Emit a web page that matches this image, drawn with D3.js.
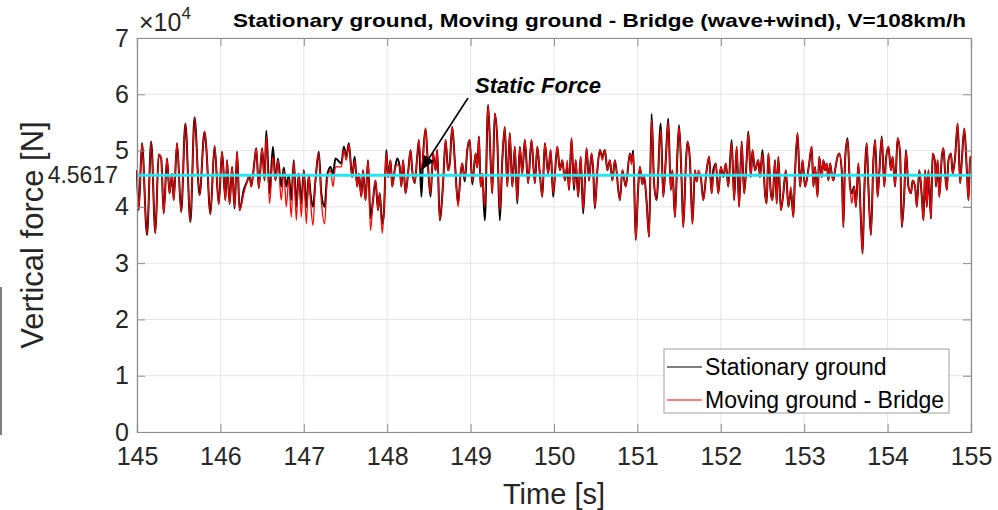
<!DOCTYPE html>
<html><head><meta charset="utf-8">
<script src="https://cdn.jsdelivr.net/npm/d3@7"></script>
<style>
html,body{margin:0;padding:0;background:#fff;}
text{font-family:"Liberation Sans",Arial,Helvetica,sans-serif;}
</style></head>
<body><svg id="chart" width="998" height="510"></svg>
<script>
// ---- data (force in units of 10^4 N) ----
const time = [
145.00,145.02,145.06,145.12,145.17,145.22,145.26,145.29,145.32,145.36,145.39,145.42,145.44,145.48,145.53,145.58,145.64,145.69,145.75,145.81,145.83,145.88,145.93,145.98,
146.02,146.06,146.08,146.11,146.14,146.17,146.20,146.23,146.28,146.32,146.35,146.37,146.41,146.43,146.46,146.50,146.53,146.55,146.59,146.63,146.66,146.69,146.73,146.76,146.79,146.82,146.85,146.88,146.91,146.94,146.97,
147.00,147.03,147.06,147.08,147.11,147.14,147.18,147.21,147.25,147.28,147.32,147.35,147.38,147.45,147.48,147.51,147.54,147.58,147.61,147.64,147.66,147.69,147.71,147.74,147.77,147.80,147.83,147.86,147.89,147.91,147.94,147.96,147.99,
148.01,148.04,148.06,148.09,148.12,148.15,148.17,148.19,148.22,148.25,148.28,148.30,148.33,148.36,148.38,148.41,148.43,148.46,148.49,148.52,148.55,148.58,148.60,148.63,148.67,148.70,148.73,148.75,148.78,148.81,148.85,148.88,148.90,148.93,148.96,148.99,
149.02,149.06,149.08,149.10,149.12,149.14,149.17,149.21,149.24,149.26,149.29,149.32,149.35,149.38,149.41,149.44,149.47,149.50,149.53,149.56,149.59,149.62,149.65,149.69,149.73,149.77,149.80,149.83,149.86,149.89,149.93,149.96,149.99,
150.02,150.04,150.07,150.10,150.13,150.16,150.18,150.21,150.24,150.26,150.29,150.32,150.35,150.39,150.42,150.45,150.47,150.49,150.52,150.55,150.58,150.61,150.64,150.67,150.70,150.73,150.79,150.82,150.86,150.91,150.93,150.95,150.98,
151.01,151.03,151.06,151.08,151.11,151.14,151.17,151.20,151.23,151.28,151.31,151.34,151.37,151.40,151.42,151.45,151.48,151.50,151.53,151.55,151.58,151.60,151.63,151.66,151.69,151.71,151.73,151.76,151.79,151.83,151.86,151.89,151.91,151.94,151.97,
152.00,152.03,152.06,152.09,152.13,152.16,152.19,152.22,152.25,152.28,152.31,152.33,152.36,152.38,152.41,152.45,152.47,152.50,152.53,152.55,152.57,152.60,152.62,152.65,152.67,152.69,152.72,152.75,152.78,152.81,152.84,152.87,152.89,152.92,152.95,152.98,
153.01,153.03,153.06,153.09,153.11,153.13,153.16,153.18,153.21,153.23,153.25,153.27,153.29,153.31,153.33,153.35,153.37,153.40,153.42,153.45,153.47,153.49,153.52,153.55,153.57,153.60,153.62,153.65,153.68,153.70,153.72,153.75,153.77,153.80,153.83,153.85,153.88,153.90,153.93,153.96,153.98,
154.01,154.04,154.06,154.09,154.12,154.15,154.17,154.20,154.22,154.25,154.28,154.30,154.33,154.35,154.38,154.41,154.43,154.45,154.47,154.49,154.52,154.54,154.57,154.58,154.60,154.62,154.65,154.67,154.69,154.71,154.73,154.76,154.78,154.81,154.84,154.87,154.89,154.92,154.95,154.97,154.99,155.00
];
const stationaryGround = [
4.65,3.94,5.13,3.50,5.16,3.53,4.93,4.86,3.88,4.86,4.24,4.59,4.12,5.13,3.91,5.48,3.73,5.59,4.21,5.34,5.07,3.87,5.08,4.05,
4.98,4.12,4.83,4.05,4.71,3.97,4.98,3.94,4.30,4.45,4.56,4.36,4.83,5.04,4.33,5.04,4.47,5.35,4.24,5.07,4.47,4.86,4.36,4.70,4.36,4.56,4.12,4.83,4.00,4.59,4.06,
4.65,4.00,4.56,4.24,4.00,4.47,4.98,4.24,4.00,4.56,4.71,4.59,4.86,4.77,5.07,4.89,5.13,4.53,4.89,4.36,4.59,4.18,4.65,4.12,4.83,3.80,4.12,4.47,3.94,4.24,3.70,3.88,5.01,
4.53,4.83,4.36,4.65,4.86,4.71,4.36,4.83,4.24,4.59,5.01,4.65,4.42,4.89,5.19,4.18,4.89,5.39,4.71,4.18,4.95,4.65,5.01,3.76,4.42,5.19,4.65,4.77,5.42,4.83,4.06,4.59,4.77,4.45,5.01,5.19,
4.40,4.95,4.70,5.25,4.36,4.59,3.76,5.81,4.83,4.24,5.66,5.19,3.76,4.83,5.42,4.36,5.31,4.36,5.07,4.06,5.07,4.59,5.19,4.42,5.19,4.42,5.07,4.59,4.18,5.13,4.59,5.01,4.18,
4.77,5.07,4.65,4.83,4.47,4.71,4.30,5.22,4.30,4.83,4.18,4.89,3.88,5.04,4.47,4.95,4.65,3.97,4.65,5.01,4.89,5.01,4.65,4.83,4.47,4.83,4.12,4.65,4.36,4.95,4.80,5.00,3.41,
4.36,4.71,4.40,4.55,4.10,3.47,5.65,4.42,4.12,5.48,4.18,4.83,5.57,4.30,4.65,3.82,4.95,5.45,4.47,3.64,4.71,5.16,4.83,3.70,4.65,4.45,4.59,4.53,4.12,4.65,4.89,4.24,4.65,4.77,4.24,
4.71,4.53,4.77,4.36,5.19,4.12,5.07,4.00,5.16,4.24,4.83,5.34,4.53,5.01,4.65,4.83,4.53,5.01,4.24,4.06,4.95,4.24,4.12,4.83,4.06,4.89,3.94,4.24,4.65,4.00,4.30,3.82,4.59,5.31,4.36,4.83,
4.36,4.47,4.77,5.07,4.36,4.71,4.18,4.89,4.53,4.83,4.65,4.77,4.47,4.77,4.59,4.47,4.65,4.89,4.95,4.65,3.64,4.83,5.22,4.36,4.24,4.36,4.00,4.77,3.76,3.17,4.24,5.13,4.36,3.50,4.83,5.19,4.18,4.59,5.25,4.36,4.83,
5.07,4.65,4.89,4.36,5.22,4.95,3.64,4.24,5.01,4.36,4.24,4.47,4.36,4.00,4.65,4.18,3.76,4.65,4.00,4.65,3.79,4.95,4.77,4.36,4.83,4.18,4.89,5.04,4.59,4.30,4.83,4.95,4.59,4.89,5.48,4.42,4.83,5.39,4.65,4.12,4.89,4.83
];
const movingGroundBridge = [
4.65,3.94,5.13,3.50,5.16,3.53,4.93,4.86,3.88,4.86,4.24,4.59,4.12,5.13,3.91,5.48,3.73,5.59,4.21,5.34,5.07,3.87,5.08,4.05,
4.98,4.12,4.83,4.05,4.71,4.00,4.98,3.94,4.24,4.45,4.56,4.36,4.83,5.04,4.33,5.04,4.47,5.25,4.06,4.89,4.47,4.83,4.12,4.65,4.00,4.50,3.82,4.80,3.76,4.59,3.82,
4.65,3.70,4.56,4.12,3.67,4.47,4.95,4.12,3.70,4.47,4.65,4.36,4.71,4.71,5.01,4.83,5.10,4.53,4.83,4.36,4.59,4.18,4.65,4.12,4.83,3.58,4.12,4.47,3.94,4.24,3.53,3.88,4.95,
4.53,4.83,4.36,4.65,4.75,4.71,4.36,4.83,4.24,4.59,5.01,4.65,4.42,4.89,5.19,4.65,4.89,5.39,4.71,4.24,4.95,4.65,5.01,3.76,4.42,5.19,4.65,4.77,5.42,4.83,4.00,4.59,4.77,4.50,5.01,5.19,
4.45,4.95,4.70,5.25,4.36,4.59,4.00,5.81,4.83,4.24,5.66,5.19,3.94,4.83,5.42,4.36,5.31,4.36,5.07,4.12,5.07,4.59,5.19,4.42,5.19,4.42,5.07,4.59,4.18,5.13,4.59,5.01,4.24,
4.77,5.07,4.65,4.83,4.47,4.83,4.30,5.22,4.36,4.83,4.18,4.89,3.94,5.04,4.47,4.95,4.65,4.00,4.65,5.01,4.83,5.01,4.65,4.83,4.47,4.83,4.12,4.65,4.36,4.95,4.75,4.95,3.41,
4.36,4.71,4.40,4.55,4.10,3.47,5.55,4.42,4.12,5.38,4.18,4.83,5.51,4.30,4.65,3.82,4.95,5.42,4.47,3.64,4.71,5.16,4.83,3.70,4.65,4.45,4.65,4.53,4.12,4.65,4.89,4.24,4.53,4.77,4.24,
4.71,4.53,4.77,4.36,5.13,4.12,5.07,4.00,5.13,4.24,4.83,5.31,4.53,5.01,4.65,4.83,4.53,4.95,4.24,4.06,4.95,4.24,4.12,4.83,4.06,4.89,3.94,4.24,4.65,4.00,4.36,3.82,4.59,5.31,4.36,4.83,
4.36,4.47,4.77,5.07,4.36,4.71,4.18,4.89,4.53,4.83,4.65,4.77,4.47,4.77,4.59,4.47,4.65,4.89,4.95,4.65,3.64,4.83,5.19,4.36,4.06,4.36,4.00,4.77,3.76,3.17,4.24,5.13,4.36,3.50,4.83,5.19,4.18,4.59,5.22,4.36,4.83,
5.07,4.65,4.89,4.36,5.22,4.95,3.64,4.24,4.98,4.36,4.24,4.47,4.36,4.00,4.65,4.18,3.76,4.65,4.00,4.65,3.79,4.95,4.77,4.36,4.83,4.18,4.89,5.04,4.59,4.30,4.83,4.95,4.59,4.89,5.48,4.42,4.83,5.39,4.65,4.12,4.89,4.83
];
const staticForce = 4.5617;
const xTicks = [145,146,147,148,149,150,151,152,153,154,155];
const yTicks = [0,1,2,3,4,5,6,7];
const seriesNames = ["Stationary ground","Moving ground - Bridge"];
const seriesColors = ["#000000","#ff0000"];
const titleText = "Stationary ground, Moving ground - Bridge (wave+wind), V=108km/h";

// ---- layout ----
const svg = d3.select("#chart");
const L = 137, R = 971, T = 38, B = 432;
const x = d3.scaleLinear().domain([145,155]).range([L,R]);
const y = d3.scaleLinear().domain([0,7]).range([B,T]);

// grid
const g = svg.append("g");
g.selectAll(".gx").data(xTicks).join("line")
  .attr("x1",d=>x(d)).attr("x2",d=>x(d)).attr("y1",T).attr("y2",B)
  .attr("stroke","#e6e6e6").attr("stroke-width",1);
g.selectAll(".gy").data(yTicks).join("line")
  .attr("x1",L).attr("x2",R).attr("y1",d=>y(d)).attr("y2",d=>y(d))
  .attr("stroke","#e6e6e6").attr("stroke-width",1);

// series
const pts = (vals)=>time.map((t,i)=>[t,vals[i]]);
const line = d3.line().x(d=>x(d[0])).y(d=>y(d[1])).curve(d3.curveMonotoneX);
svg.append("path").attr("d",line(pts(stationaryGround)))
  .attr("fill","none").attr("stroke",seriesColors[0]).attr("stroke-width",2)
  .attr("stroke-linejoin","round");
svg.append("path").attr("d",line(pts(movingGroundBridge)))
  .attr("fill","none").attr("stroke",seriesColors[1]).attr("stroke-width",1.3)
  .attr("stroke-linejoin","round");

// static force line
svg.append("line").attr("x1",x(145)).attr("x2",x(155))
  .attr("y1",y(staticForce)).attr("y2",y(staticForce))
  .attr("stroke","#22e6f0").attr("stroke-width",3);

// axes
const axCol = "#8c8c8c";
const fontTick = 25;
const xb = svg.append("g").attr("transform",`translate(0,${B})`)
  .call(d3.axisBottom(x).tickValues(xTicks).tickSize(-8).tickPadding(15).tickFormat(d3.format("d")));
const xt = svg.append("g").attr("transform",`translate(0,${T})`)
  .call(d3.axisTop(x).tickValues(xTicks).tickSize(-8).tickFormat(""));
const yl = svg.append("g").attr("transform",`translate(${L},0)`)
  .call(d3.axisLeft(y).tickValues(yTicks).tickSize(-8).tickPadding(10).tickFormat(d3.format("d")));
const yr = svg.append("g").attr("transform",`translate(${R},0)`)
  .call(d3.axisRight(y).tickValues(yTicks).tickSize(-8).tickFormat(""));
[xb,xt,yl,yr].forEach(a=>{
  a.select(".domain").attr("stroke",axCol).attr("stroke-width",1.2);
  a.selectAll(".tick line").attr("stroke",axCol);
  a.selectAll("text").attr("fill","#262626").style("font-size",fontTick+"px")
   .style("font-family",'"Liberation Sans",Arial,sans-serif');
});
yl.selectAll(".tick text").attr("x",-8);
// custom static-force tick label
svg.append("text").attr("x",L-19).attr("y",y(staticForce)).attr("dy","0.35em")
  .attr("text-anchor","end").attr("fill","#262626").style("font-size","23px")
  .text(String(staticForce));

// exponent
const ex = svg.append("text").attr("x",139).attr("y",31).attr("fill","#262626").style("font-size","25px");
ex.append("tspan").text("×10");
ex.append("tspan").attr("dy",-12).style("font-size","17px").text("4");

// title
svg.append("text").attr("x",233).attr("y",27).attr("fill","#000")
  .style("font-size","19px").style("font-weight","bold")
  .attr("textLength",733).attr("lengthAdjust","spacingAndGlyphs")
  .text(titleText);

// axis labels
svg.append("text").attr("x",x(150)).attr("y",504).attr("text-anchor","middle")
  .attr("fill","#262626").style("font-size","29px").text("Time [s]");
svg.append("text").attr("transform",`translate(43,235) rotate(-90)`).attr("text-anchor","middle")
  .attr("fill","#262626").style("font-size","31px").text("Vertical force [N]");

// annotation
svg.append("defs").append("marker").attr("id","ah").attr("viewBox","0 0 10 10")
  .attr("refX",9).attr("refY",5).attr("markerWidth",9).attr("markerHeight",9)
  .attr("orient","auto").append("path").attr("d","M0,1 L10,5 L0,9 Z").attr("fill","#000");
svg.append("line").attr("x1",468).attr("y1",98).attr("x2",422).attr("y2",169)
  .attr("stroke","#000").attr("stroke-width",1.6).attr("marker-end","url(#ah)");
svg.append("text").attr("x",475).attr("y",93).attr("fill","#000")
  .style("font-size","22px").style("font-weight","bold").style("font-style","italic")
  .text("Static Force");

// legend
const lg = svg.append("g");
lg.append("rect").attr("x",664).attr("y",349).attr("width",285).attr("height",64)
  .attr("fill","#fff").attr("stroke","#a0a0a0").attr("stroke-width",1);
seriesNames.forEach((n,i)=>{
  const yy = 367 + i*33;
  lg.append("line").attr("x1",667).attr("x2",702).attr("y1",yy).attr("y2",yy)
    .attr("stroke",seriesColors[i]).attr("stroke-width",1.1);
  lg.append("text").attr("x",705).attr("y",yy).attr("dy","0.35em").attr("fill","#000")
    .style("font-size","23px").text(n);
});

// stray border artifact at left edge
svg.append("line").attr("x1",1).attr("x2",1).attr("y1",287).attr("y2",435)
  .attr("stroke","#555").attr("stroke-width",1.5);
</script></body></html>
